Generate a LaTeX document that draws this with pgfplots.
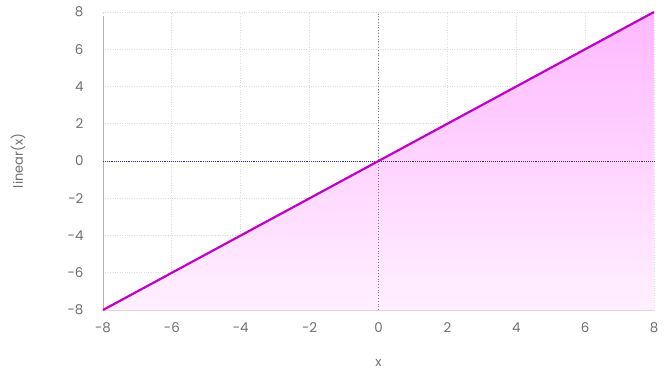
\documentclass[border=0pt]{standalone}
\usepackage{fontspec}
\setmainfont{Poppins}
\usepackage{pgfplots}
\pgfplotsset{compat=1.18}
\definecolor{linecol}{HTML}{C000C8}
\definecolor{filltop}{HTML}{FFB8FF}
\definecolor{fillbot}{HTML}{FFF0FF}
\definecolor{gridcol}{HTML}{DDDDDD}
\definecolor{tickcol}{HTML}{707070}
\definecolor{zerocol}{HTML}{3A3A7A}
\begin{document}
\begin{tikzpicture}
\useasboundingbox (-103bp,-64bp) rectangle (561bp,310bp);
\begin{axis}[
  at={(0,0)}, anchor=south west,
  scale only axis, width=551bp, height=298bp,
  xmin=-8, xmax=8, ymin=-8, ymax=8,
  xtick={-8,-6,...,8}, ytick={-8,-6,...,8},
  xticklabels={-8,-6,-4,-2,0,2,4,6,8},
  yticklabels={-8,-6,-4,-2,0,2,4,6,8},
  axis line style={draw=none},
  tick style={draw=none},
  grid=major,
  major grid style={gridcol, dotted, line width=0.8pt},
  ticklabel style={font=\fontsize{13.5}{15}\selectfont, text=tickcol},
  xticklabel style={yshift=-9bp},
  yticklabel style={xshift=-16bp},
  clip=false,
]
\addplot[draw=none, top color=filltop, bottom color=fillbot] coordinates {(-8,-8) (8,8) (8,-8)} -- cycle;
\draw[gridcol!80!black, line width=0.8pt] (axis cs:-8,-8) -- (axis cs:-8,7.8);
\draw[pink!40!gridcol, line width=0.8pt] (axis cs:-8,-8) -- (axis cs:8,-8);
\draw[gray, dotted, line width=0.8pt] (axis cs:0,-8) -- (axis cs:0,8);
\draw[zerocol, densely dotted, line width=0.9pt] (axis cs:-8,0) -- (axis cs:8,0);
\addplot[linecol, line width=2.2pt] coordinates {(-8,-8) (-6,-6) (-4,-4) (-2,-2) (0,0) (2,2) (4,4) (6,6) (8,8)};
\node[font=\fontsize{13}{15}\selectfont, text=tickcol] at ([yshift=-53bp]axis description cs:0.5,0) {x};
\node[rotate=90, font=\fontsize{13}{15}\selectfont, text=tickcol] at ([xshift=-85bp]axis description cs:0,0.5) {linear(x)};
\end{axis}
\end{tikzpicture}
\end{document}
